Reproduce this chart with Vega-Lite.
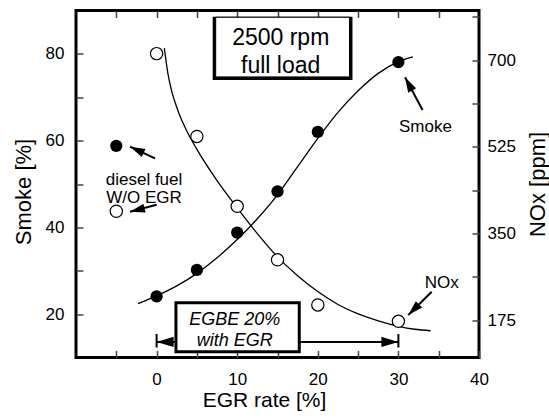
{
  "$schema": "https://vega.github.io/schema/vega-lite/v6.json",
  "width": 403,
  "height": 347,
  "autosize": {"type": "none"},
  "padding": {"left": 76, "top": 10.5, "right": 70, "bottom": 60.5},
  "background": "white",
  "config": {
    "view": {"stroke": "black", "strokeWidth": 3},
    "font": "Liberation Sans",
    "axis": {
      "domain": false, "grid": false,
      "tickColor": "#444", "tickWidth": 1.5,
      "labelFont": "Liberation Sans", "labelFontSize": 17, "labelColor": "black",
      "titleFont": "Liberation Sans", "titleFontSize": 22, "titleFontWeight": "normal", "titleColor": "black",
      "labelFlush": false, "labelOverlap": false
    }
  },
  "datasets": {
    "smokePts": [
      {"x": -5, "s": 58.8}, {"x": 0, "s": 24.1}, {"x": 5, "s": 30.2}, {"x": 10, "s": 38.8},
      {"x": 15, "s": 48.3}, {"x": 20, "s": 62.0}, {"x": 30, "s": 78.1}
    ],
    "smokeCurve": [
      {"x": -2.3, "s": 22.4}, {"x": 0, "s": 24.2}, {"x": 2.5, "s": 26.5}, {"x": 5, "s": 29.4},
      {"x": 7.5, "s": 33.0}, {"x": 10, "s": 37.2}, {"x": 12.5, "s": 42.0}, {"x": 15, "s": 47.5},
      {"x": 17.5, "s": 54.0}, {"x": 20, "s": 60.5}, {"x": 22.5, "s": 66.5}, {"x": 25, "s": 71.5},
      {"x": 27.5, "s": 75.5}, {"x": 30, "s": 78.2}, {"x": 31.8, "s": 79.3}
    ],
    "noxPts": [
      {"x": -5, "n": 395}, {"x": 0, "n": 713}, {"x": 5, "n": 546}, {"x": 10, "n": 405},
      {"x": 15, "n": 297}, {"x": 20, "n": 206}, {"x": 30, "n": 173}
    ],
    "noxCurve": [
      {"x": 0.96, "n": 724}, {"x": 1.41, "n": 672}, {"x": 1.91, "n": 635}, {"x": 2.41, "n": 609},
      {"x": 3.03, "n": 582}, {"x": 3.65, "n": 560}, {"x": 4.89, "n": 523}, {"x": 7.37, "n": 460},
      {"x": 10, "n": 402}, {"x": 12.5, "n": 350}, {"x": 15, "n": 303}, {"x": 17.5, "n": 265},
      {"x": 20, "n": 233}, {"x": 22.5, "n": 207}, {"x": 25, "n": 188}, {"x": 27.5, "n": 174},
      {"x": 30, "n": 163}, {"x": 32, "n": 157}, {"x": 34, "n": 154}
    ],
    "segs": [
      {"x": 0, "x2": 30, "s": 13.6, "s2": 13.6},
      {"x": 0, "x2": 0, "s": 12.3, "s2": 15.4},
      {"x": 30, "x2": 30, "s": 12.3, "s2": 15.4},
      {"x": 33.0, "x2": 30.82, "s": 67.06, "s2": 74.6},
      {"x": 34.13, "x2": 31.23, "s": 25.17, "s2": 19.8},
      {"x": -0.2, "x2": -3.3, "s": 55.9, "s2": 58.6},
      {"x": 0.0, "x2": -3.3, "s": 45.2, "s2": 43.6}
    ],
    "heads": [
      {"id": "smoke", "x": 30.82, "s": 74.6},
      {"id": "nox", "x": 31.23, "s": 19.8},
      {"id": "d1", "x": -3.3, "s": 58.6},
      {"id": "d2", "x": -3.3, "s": 43.6},
      {"id": "left", "x": 0, "s": 13.6},
      {"id": "right", "x": 30, "s": 13.6}
    ],
    "boxes": [
      {"id": "egbe", "x": 2.4, "x2": 17.7, "s": 11.3, "s2": 22.6},
      {"id": "outer", "x": 6.96, "x2": 24.3, "s": 74.0, "s2": 88.57},
      {"id": "inner", "x": 7.33, "x2": 23.93, "s": 74.69, "s2": 88.45}
    ],
    "notes": [
      {"t": "Smoke", "x": 33.36, "s": 62.0},
      {"t": "NOx", "x": 35.37, "s": 26.0},
      {"t": "diesel fuel", "x": -1.56, "s": 49.8},
      {"t": "W/O EGR", "x": -1.56, "s": 45.6}
    ],
    "titleBox": [
      {"t": "2500 rpm", "x": 15.4, "s": 82.05},
      {"t": "full load", "x": 15.4, "s": 75.6}
    ],
    "egbeText": [
      {"t": "EGBE 20%", "x": 9.7, "s": 17.5},
      {"t": "with EGR", "x": 9.7, "s": 12.65}
    ]
  },
  "resolve": {"scale": {"y": "independent"}, "axis": {"x": "independent", "y": "independent"}},
  "layer": [
    {
      "data": {"name": "segs"},
      "mark": {"type": "rule", "color": "black", "strokeWidth": 2},
      "encoding": {
        "x": {"field": "x", "type": "quantitative", "scale": {"domain": [-10, 40], "nice": false, "zero": false}, "axis": null},
        "x2": {"field": "x2"},
        "y": {"field": "s", "type": "quantitative", "scale": {"domain": [10, 90], "nice": false, "zero": false}, "axis": null},
        "y2": {"field": "s2"}
      }
    },
    {
      "data": {"name": "heads"},
      "transform": [{"filter": "datum.id === 'smoke'"}],
      "mark": {"type": "point", "shape": "M0,0L0.3,1L-0.3,1Z", "filled": true, "color": "black", "opacity": 1, "size": 900, "angle": 331.6},
      "encoding": {
        "x": {"field": "x", "type": "quantitative", "scale": {"domain": [-10, 40], "nice": false, "zero": false}, "axis": null},
        "y": {"field": "s", "type": "quantitative", "scale": {"domain": [10, 90], "nice": false, "zero": false}, "axis": null}
      }
    },
    {
      "data": {"name": "heads"},
      "transform": [{"filter": "datum.id === 'nox'"}],
      "mark": {"type": "point", "shape": "M0,0L0.3,1L-0.3,1Z", "filled": true, "color": "black", "opacity": 1, "size": 900, "angle": 225.1},
      "encoding": {
        "x": {"field": "x", "type": "quantitative", "scale": {"domain": [-10, 40], "nice": false, "zero": false}, "axis": null},
        "y": {"field": "s", "type": "quantitative", "scale": {"domain": [10, 90], "nice": false, "zero": false}, "axis": null}
      }
    },
    {
      "data": {"name": "heads"},
      "transform": [{"filter": "datum.id === 'd1'"}],
      "mark": {"type": "point", "shape": "M0,0L0.3,1L-0.3,1Z", "filled": true, "color": "black", "opacity": 1, "size": 900, "angle": 294.9},
      "encoding": {
        "x": {"field": "x", "type": "quantitative", "scale": {"domain": [-10, 40], "nice": false, "zero": false}, "axis": null},
        "y": {"field": "s", "type": "quantitative", "scale": {"domain": [10, 90], "nice": false, "zero": false}, "axis": null}
      }
    },
    {
      "data": {"name": "heads"},
      "transform": [{"filter": "datum.id === 'd2'"}],
      "mark": {"type": "point", "shape": "M0,0L0.3,1L-0.3,1Z", "filled": true, "color": "black", "opacity": 1, "size": 900, "angle": 255.9},
      "encoding": {
        "x": {"field": "x", "type": "quantitative", "scale": {"domain": [-10, 40], "nice": false, "zero": false}, "axis": null},
        "y": {"field": "s", "type": "quantitative", "scale": {"domain": [10, 90], "nice": false, "zero": false}, "axis": null}
      }
    },
    {
      "data": {"name": "heads"},
      "transform": [{"filter": "datum.id === 'left'"}],
      "mark": {"type": "point", "shape": "M0,0L0.3,1L-0.3,1Z", "filled": true, "color": "black", "opacity": 1, "size": 1156, "angle": 270},
      "encoding": {
        "x": {"field": "x", "type": "quantitative", "scale": {"domain": [-10, 40], "nice": false, "zero": false}, "axis": null},
        "y": {"field": "s", "type": "quantitative", "scale": {"domain": [10, 90], "nice": false, "zero": false}, "axis": null}
      }
    },
    {
      "data": {"name": "heads"},
      "transform": [{"filter": "datum.id === 'right'"}],
      "mark": {"type": "point", "shape": "M0,0L0.3,1L-0.3,1Z", "filled": true, "color": "black", "opacity": 1, "size": 1156, "angle": 90},
      "encoding": {
        "x": {"field": "x", "type": "quantitative", "scale": {"domain": [-10, 40], "nice": false, "zero": false}, "axis": null},
        "y": {"field": "s", "type": "quantitative", "scale": {"domain": [10, 90], "nice": false, "zero": false}, "axis": null}
      }
    },
    {
      "data": {"name": "boxes"},
      "transform": [{"filter": "datum.id === 'egbe'"}],
      "mark": {"type": "rect", "fill": "white", "stroke": "black", "strokeWidth": 3},
      "encoding": {
        "x": {"field": "x", "type": "quantitative", "scale": {"domain": [-10, 40], "nice": false, "zero": false}, "axis": null},
        "x2": {"field": "x2"},
        "y": {"field": "s", "type": "quantitative", "scale": {"domain": [10, 90], "nice": false, "zero": false}, "axis": null},
        "y2": {"field": "s2"}
      }
    },
    {
      "data": {"name": "boxes"},
      "transform": [{"filter": "datum.id === 'outer'"}],
      "mark": {"type": "rect", "fill": "black"},
      "encoding": {
        "x": {"field": "x", "type": "quantitative", "scale": {"domain": [-10, 40], "nice": false, "zero": false}, "axis": null},
        "x2": {"field": "x2"},
        "y": {"field": "s", "type": "quantitative", "scale": {"domain": [10, 90], "nice": false, "zero": false}, "axis": null},
        "y2": {"field": "s2"}
      }
    },
    {
      "data": {"name": "boxes"},
      "transform": [{"filter": "datum.id === 'inner'"}],
      "mark": {"type": "rect", "fill": "white", "stroke": "black", "strokeWidth": 1},
      "encoding": {
        "x": {"field": "x", "type": "quantitative", "scale": {"domain": [-10, 40], "nice": false, "zero": false}, "axis": null},
        "x2": {"field": "x2"},
        "y": {"field": "s", "type": "quantitative", "scale": {"domain": [10, 90], "nice": false, "zero": false}, "axis": null},
        "y2": {"field": "s2"}
      }
    },
    {
      "data": {"name": "titleBox"},
      "mark": {"type": "text", "fontSize": 23, "align": "center", "baseline": "alphabetic", "color": "black", "font": "Liberation Sans"},
      "encoding": {
        "x": {"field": "x", "type": "quantitative", "scale": {"domain": [-10, 40], "nice": false, "zero": false}, "axis": null},
        "y": {"field": "s", "type": "quantitative", "scale": {"domain": [10, 90], "nice": false, "zero": false}, "axis": null},
        "text": {"field": "t"}
      }
    },
    {
      "data": {"name": "egbeText"},
      "mark": {"type": "text", "fontSize": 18, "fontStyle": "italic", "align": "center", "baseline": "alphabetic", "color": "black", "font": "Liberation Sans"},
      "encoding": {
        "x": {"field": "x", "type": "quantitative", "scale": {"domain": [-10, 40], "nice": false, "zero": false}, "axis": null},
        "y": {"field": "s", "type": "quantitative", "scale": {"domain": [10, 90], "nice": false, "zero": false}, "axis": null},
        "text": {"field": "t"}
      }
    },
    {
      "data": {"name": "notes"},
      "mark": {"type": "text", "fontSize": 17, "align": "center", "baseline": "alphabetic", "color": "black", "font": "Liberation Sans"},
      "encoding": {
        "x": {"field": "x", "type": "quantitative", "scale": {"domain": [-10, 40], "nice": false, "zero": false}, "axis": null},
        "y": {"field": "s", "type": "quantitative", "scale": {"domain": [10, 90], "nice": false, "zero": false}, "axis": null},
        "text": {"field": "t"}
      }
    },
    {
      "data": {"name": "smokeCurve"},
      "mark": {"type": "line", "color": "black", "strokeWidth": 1.3, "interpolate": "monotone"},
      "encoding": {
        "x": {"field": "x", "type": "quantitative", "scale": {"domain": [-10, 40], "nice": false, "zero": false}, "axis": null},
        "y": {"field": "s", "type": "quantitative", "scale": {"domain": [10, 90], "nice": false, "zero": false}, "axis": null}
      }
    },
    {
      "data": {"name": "noxCurve"},
      "mark": {"type": "line", "color": "black", "strokeWidth": 1.3, "interpolate": "monotone"},
      "encoding": {
        "x": {"field": "x", "type": "quantitative", "scale": {"domain": [-10, 40], "nice": false, "zero": false}, "axis": null},
        "y": {"field": "n", "type": "quantitative", "scale": {"domain": [100, 800], "nice": false, "zero": false}, "axis": null}
      }
    },
    {
      "data": {"name": "smokePts"},
      "mark": {"type": "point", "shape": "circle", "filled": true, "color": "black", "opacity": 1, "size": 150},
      "encoding": {
        "x": {
          "field": "x", "type": "quantitative",
          "scale": {"domain": [-10, 40], "nice": false, "zero": false},
          "axis": {
            "orient": "bottom",
            "values": [-5, 0, 5, 10, 15, 20, 25, 30, 35, 40],
            "labelExpr": "datum.value % 10 === 0 ? datum.label : ''",
            "tickSize": -7,
            "labelPadding": 21,
            "title": "EGR rate [%]",
            "titleFontSize": 21,
            "titleX": 188, "titleY": 42.5, "titleBaseline": "middle", "titleAlign": "center"
          }
        },
        "y": {
          "field": "s", "type": "quantitative",
          "scale": {"domain": [10, 90], "nice": false, "zero": false},
          "axis": {
            "orient": "left",
            "values": [20, 30, 40, 50, 60, 70, 80],
            "labelExpr": "datum.value % 20 === 0 ? datum.label : ''",
            "tickSize": -7,
            "labelPadding": 19,
            "title": "Smoke [%]",
            "titleX": -53, "titleY": 181, "titleAngle": 270, "titleBaseline": "middle", "titleAlign": "center"
          }
        }
      }
    },
    {
      "data": {"name": "noxPts"},
      "mark": {"type": "point", "shape": "circle", "filled": false, "fill": "white", "fillOpacity": 1, "stroke": "black", "strokeWidth": 1.2, "opacity": 1, "size": 150},
      "encoding": {
        "x": {
          "field": "x", "type": "quantitative",
          "scale": {"domain": [-10, 40], "nice": false, "zero": false},
          "axis": {
            "orient": "top",
            "values": [-5, 0, 5, 10, 15, 20, 25, 30, 35],
            "tickSize": -7,
            "labels": false,
            "title": null
          }
        },
        "y": {
          "field": "n", "type": "quantitative",
          "scale": {"domain": [100, 800], "nice": false, "zero": false},
          "axis": {
            "orient": "right",
            "values": [175, 262.5, 350, 437.5, 525, 612.5, 700, 787.5],
            "labelExpr": "datum.value % 175 === 0 ? datum.label : ''",
            "tickSize": -7,
            "labelPadding": 15,
            "title": "NOx [ppm]",
            "titleX": 58.7, "titleY": 173.5, "titleAngle": 270, "titleBaseline": "middle", "titleAlign": "center"
          }
        }
      }
    }
  ]
}
